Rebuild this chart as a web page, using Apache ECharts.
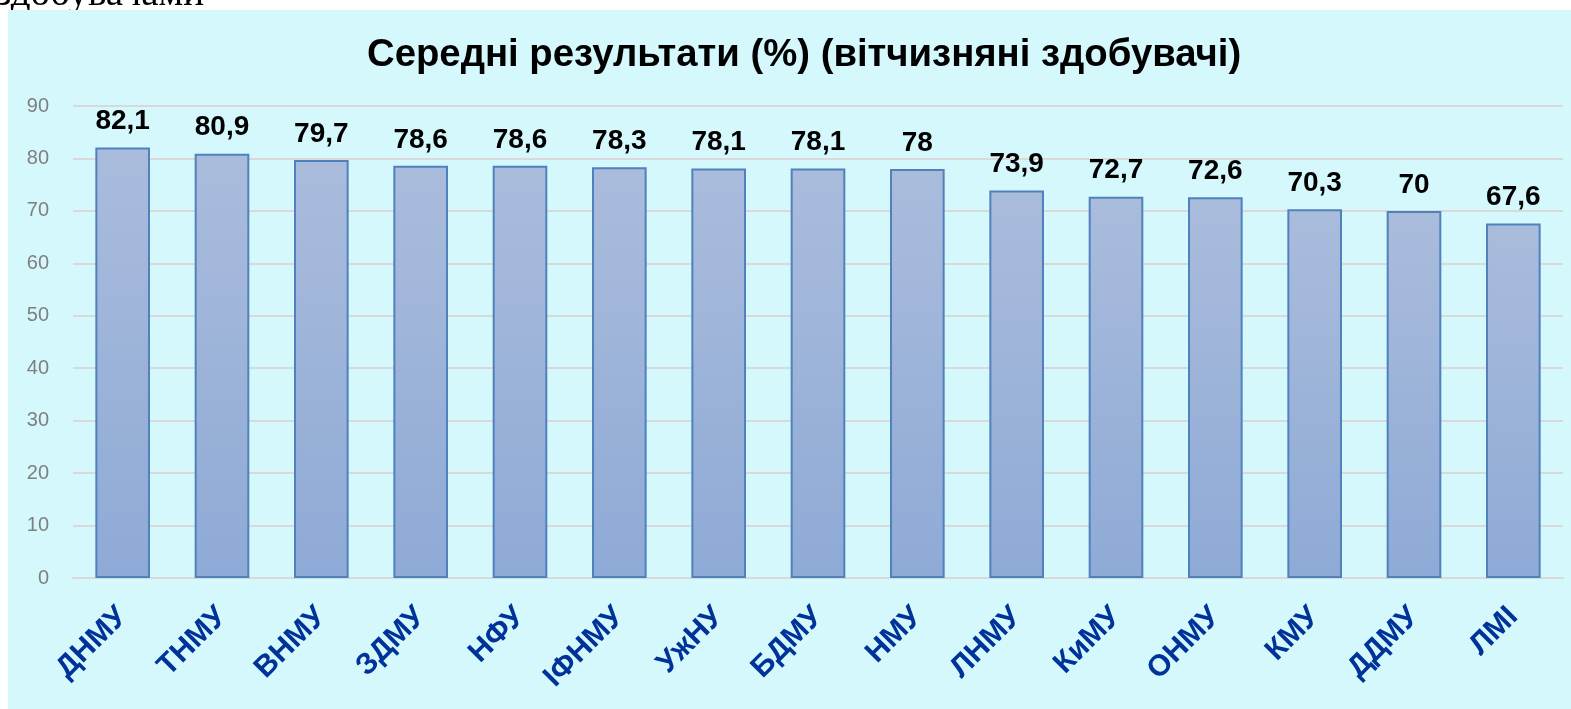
<!DOCTYPE html>
<html><head><meta charset="utf-8">
<script src="https://cdn.jsdelivr.net/npm/echarts@6/dist/echarts.min.js"></script>
<style>html,body{margin:0;padding:0;background:#fff}#c{width:1571px;height:709px}</style>
</head><body><div id="c"></div>
<script>
const titleText = 'Середні результати (%) (вітчизняні здобувачі)';
const categories = ['ДНМУ','ТНМУ','ВНМУ','ЗДМУ','НФУ','ІФНМУ','УжНУ','БДМУ','НМУ','ЛНМУ','КиМУ','ОНМУ','КМУ','ДДМУ','ЛМІ'];
const values = [82.1, 80.9, 79.7, 78.6, 78.6, 78.3, 78.1, 78.1, 78, 73.9, 72.7, 72.6, 70.3, 70, 67.6];
const yMin = 0, yMax = 90, yInterval = 10;

const chart = echarts.init(document.getElementById('c'));
chart.setOption({
  backgroundColor: '#ffffff',
  animation: false,
  graphic: [
    { type: 'text', left: -4, top: -25, z: -20, silent: true,
      style: { text: 'здобувачами', font: '39px "Liberation Serif"', fill: '#000' } },
    { type: 'rect', left: 8, top: 10, z: -10, silent: true,
      shape: { width: 1563, height: 699 }, style: { fill: '#d5f8fd' } }
  ],
  title: {
    text: titleText, left: 362, top: 31,
    textStyle: { fontFamily: 'Liberation Sans', fontWeight: 'bold', fontSize: 38.3, color: '#000' }
  },
  grid: { left: 73, right: 8, top: 106, bottom: 131, containLabel: false },
  xAxis: {
    type: 'category', data: categories,
    axisLine: { show: true, lineStyle: { color: '#d9d9d9', width: 2 } },
    axisTick: { show: false },
    axisLabel: { rotate: 45, margin: 34, interval: 0,
      fontFamily: 'Liberation Sans', fontWeight: 'bold', fontSize: 30, color: '#003399' }
  },
  yAxis: {
    type: 'value', min: yMin, max: yMax, interval: yInterval,
    axisLine: { show: false }, axisTick: { show: false },
    splitLine: { lineStyle: { color: '#d9d9d9', width: 2 } },
    axisLabel: { margin: 24, fontFamily: 'Liberation Sans', fontSize: 20, color: '#7f7f7f' }
  },
  series: [{
    type: 'bar', data: values, barWidth: '55%',
    itemStyle: {
      color: new echarts.graphic.LinearGradient(0, 0, 0, 1, [
        { offset: 0, color: '#aabcdc' }, { offset: 1, color: '#8eaad6' }
      ], false),
      borderColor: '#4f81bd', borderWidth: 2
    },
    label: {
      show: true, position: 'top', distance: 12,
      fontFamily: 'Liberation Sans', fontWeight: 'bold', fontSize: 28, color: '#000',
      formatter: p => String(p.value).replace('.', ',')
    }
  }]
});
</script></body></html>
